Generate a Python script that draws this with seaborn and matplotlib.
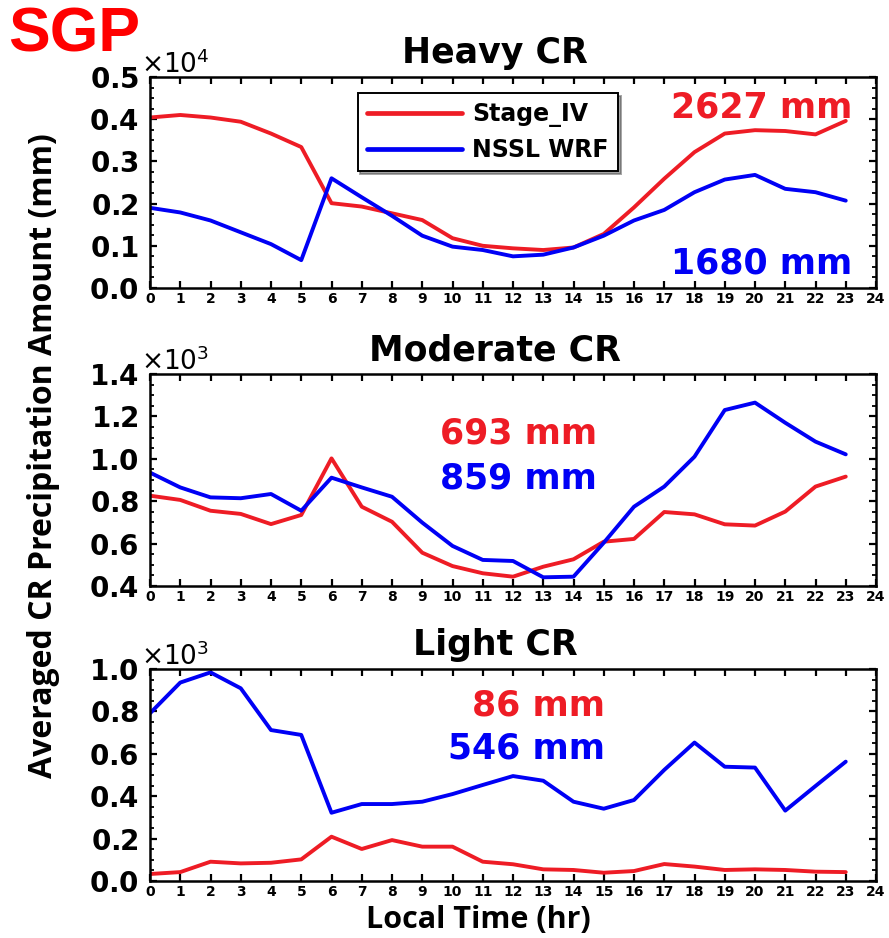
import numpy as np
import pandas as pd
import matplotlib
matplotlib.use("Agg")
import matplotlib.pyplot as plt
from matplotlib.ticker import ScalarFormatter, AutoMinorLocator, MultipleLocator
import seaborn as sns

# Local hour of day
hours = list(range(24))

# Averaged CR precipitation amount (mm) per hour
heavy_stage4 = [4040, 4100, 4040, 3940, 3660, 3340, 2010, 1930, 1770, 1610,
                1180, 1000, 940, 900, 960, 1280, 1910, 2590, 3220, 3660,
                3740, 3720, 3640, 3960]
heavy_wrf = [1900, 1790, 1600, 1320, 1040, 660, 2600, 2150, 1710, 1240,
             980, 900, 750, 790, 960, 1240, 1600, 1850, 2270, 2570,
             2680, 2350, 2270, 2070]

moderate_stage4 = [826, 806, 755, 740, 692, 735, 1002, 774, 703, 557,
                   494, 460, 444, 491, 526, 609, 622, 749, 738, 691,
                   685, 751, 869, 916]
moderate_wrf = [935, 865, 818, 814, 834, 755, 911, 865, 821, 699,
                589, 523, 518, 441, 444, 604, 774, 869, 1010, 1230,
                1265, 1170, 1081, 1021]

light_stage4 = [33, 42, 91, 83, 86, 102, 209, 151, 193, 162,
                162, 91, 79, 55, 52, 39, 47, 80, 68, 52,
                55, 52, 44, 42]
light_wrf = [791, 936, 984, 909, 712, 689, 322, 363, 363, 374,
             410, 453, 495, 473, 374, 341, 382, 524, 653, 539,
             535, 332, 448, 563]

titles = ["Heavy CR", "Moderate CR", "Light CR"]
totals_stage4 = ["2627 mm", "693 mm", "86 mm"]
totals_wrf = ["1680 mm", "859 mm", "546 mm"]
series_names = ["Stage_IV", "NSSL WRF"]

RED = "#ee1c25"
BLUE = "#0000f5"

sns.set_style("ticks")
plt.rcParams["font.family"] = ["DejaVu Sans"]
plt.rcParams.update({
    "axes.linewidth": 1.8,
    "text.color": "black",
    "axes.labelcolor": "black",
    "axes.edgecolor": "black",
    "xtick.color": "black",
    "ytick.color": "black",
})

fig = plt.figure(figsize=(8.89, 9.38), dpi=100)

left, width = 150 / 889, 726 / 889
panels = [
    dict(bottom=1 - 288 / 938, height=211 / 938, ylim=(0, 5000), step=1000, order=4,
         s4=heavy_stage4, wrf=heavy_wrf,
         pos4=(0.967, 0.806), posw=(0.967, 0.071)),
    dict(bottom=1 - 586 / 938, height=212 / 938, ylim=(400, 1400), step=200, order=3,
         s4=moderate_stage4, wrf=moderate_wrf,
         pos4=(0.616, 0.670), posw=(0.616, 0.462)),
    dict(bottom=1 - 881 / 938, height=212 / 938, ylim=(0, 1000), step=200, order=3,
         s4=light_stage4, wrf=light_wrf,
         pos4=(0.627, 0.783), posw=(0.627, 0.580)),
]

for i, p in enumerate(panels):
    ax = fig.add_axes([left, p["bottom"], width, p["height"]])
    df = pd.DataFrame({
        "hour": hours * 2,
        "amount": p["s4"] + p["wrf"],
        "source": [series_names[0]] * 24 + [series_names[1]] * 24,
    })
    sns.lineplot(data=df, x="hour", y="amount", hue="source",
                 palette={series_names[0]: RED, series_names[1]: BLUE},
                 linewidth=2.8, ax=ax, legend=(i == 0))

    ax.set_xlim(0, 24)
    ax.set_ylim(*p["ylim"])
    ax.xaxis.set_major_locator(MultipleLocator(1))
    ax.yaxis.set_major_locator(MultipleLocator(p["step"]))
    ax.yaxis.set_minor_locator(AutoMinorLocator(4))

    fmt = ScalarFormatter(useMathText=True)
    fmt.set_powerlimits((p["order"], p["order"]))
    ax.yaxis.set_major_formatter(fmt)
    off = ax.yaxis.get_offset_text()
    off.set_fontsize(19)
    off.set_x(-0.012)

    ax.tick_params(axis="both", which="both", direction="in", top=True, right=True)
    ax.tick_params(axis="both", which="major", length=5, width=1.6)
    ax.tick_params(axis="y", which="minor", length=3, width=1.3)
    ax.tick_params(axis="x", labelsize=10, pad=3)
    ax.tick_params(axis="y", labelsize=20, pad=8)
    for lab in ax.get_xticklabels() + ax.get_yticklabels():
        lab.set_fontweight("bold")

    ax.set_xlabel("")
    ax.set_ylabel("")
    ax.set_title(titles[i], x=0.475, pad=10, fontsize=25, fontweight="bold",
                 color="black")

    ax.text(*p["pos4"], totals_stage4[i], transform=ax.transAxes, ha="right",
            va="baseline", color=RED, fontsize=25, fontweight="bold")
    ax.text(*p["posw"], totals_wrf[i], transform=ax.transAxes, ha="right",
            va="baseline", color=BLUE, fontsize=25, fontweight="bold")

    if i == 0:
        leg = ax.legend(loc="upper left", bbox_to_anchor=(0.286, 0.925),
                        frameon=True, fancybox=False, shadow=True,
                        handlelength=4.0, handletextpad=0.45, borderpad=0.4,
                        labelspacing=0.45, prop=dict(size=17, weight="bold"),
                        borderaxespad=0)
        leg.get_frame().set_edgecolor("black")
        leg.get_frame().set_linewidth(1.4)
        for h in leg.get_lines():
            h.set_linewidth(3.4)

fig.text(44 / 889, 1 - 456 / 938, "Averaged CR Precipitation Amount (mm)",
         rotation=90, ha="center", va="center", fontsize=23,
         fontweight="bold", family=["Open Sans", "DejaVu Sans"])
fig.text(478 / 889, 1 - 928 / 938, "Local Time (hr)", ha="center", va="baseline",
         fontsize=22, fontweight="bold", family=["Open Sans", "DejaVu Sans"])
fig.text(8 / 889, 1 - 51 / 938, "SGP", ha="left", va="baseline", color="red",
         fontsize=45, fontweight="bold", family=["Liberation Sans", "DejaVu Sans"])

fig.savefig("out.png", dpi=100)
